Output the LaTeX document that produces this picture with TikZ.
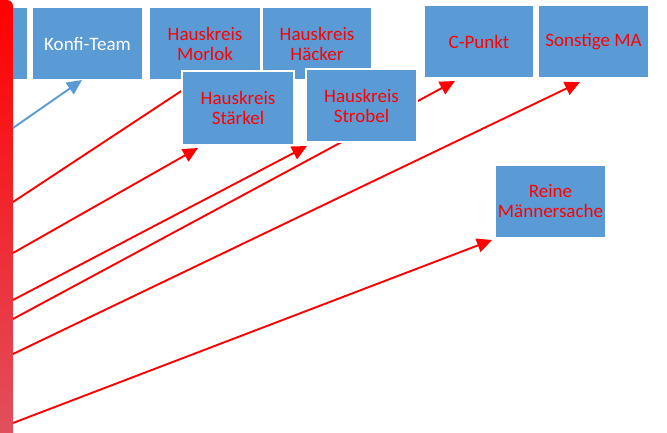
\documentclass[tikz,border=0pt]{standalone}
\usepackage{fontspec}
\setmainfont{Carlito}
\usetikzlibrary{arrows.meta,calc}
\definecolor{boxblue}{RGB}{91,155,213}
\definecolor{barbottom}{RGB}{224,82,96}
\tikzset{
  box/.style={rectangle, fill=boxblue, draw=white, line width=1.3pt, inner sep=0pt, outer sep=0pt,
    align=center, text=red, font=\fontsize{19}{20}\selectfont},
  redarrow/.style={draw=red, line width=1.9pt, -{Triangle[length=15pt,width=14pt]}},
  bluearrow/.style={draw=boxblue, line width=1.9pt, -{Triangle[length=15pt,width=14pt]}}
}
\begin{document}
\begin{tikzpicture}[x=1pt,y=-1pt]
\useasboundingbox (0,0) rectangle (667,432);
\clip (0,0) rectangle (667,432);
\fill[white] (0,0) rectangle (667,432);
% top row boxes
\node[box, minimum width=108pt, minimum height=73pt] (leftbox) at (-26,43.5) {};
\node[box, minimum width=111pt, minimum height=73pt, text=white] (konfi) at (87.5,43.5) {Konfi-Team};
\node[box, minimum width=112pt, minimum height=73pt] (morlok) at (205,43.5) {Hauskreis\\Morlok};
\node[box, minimum width=110pt, minimum height=73pt] (haecker) at (317,43.5) {Hauskreis\\Häcker};
\node[box, minimum width=110pt, minimum height=73pt] (cpunkt) at (479,41.5) {C-Punkt};
\node[box, minimum width=111pt, minimum height=73pt] (sonstige) at (593.5,41.5) {Sonstige MA};
\node[box, minimum width=111pt, minimum height=73pt] (reine) at (550.5,201.5) {Reine\\Männersache};
% bar
\shade[top color=red, bottom color=barbottom, rounded corners=6pt] (-20,0) rectangle (13,445);
\coordinate (sblue) at (13,128);
\coordinate (s1) at (13,202);
\coordinate (s2) at (13,253);
\coordinate (s3) at (13,300);
\coordinate (s4) at (13,319);
\coordinate (s5) at (13,354);
\coordinate (s6) at (13,423);
% connectors
\draw[bluearrow] (sblue) -- ([xshift=-5.5pt]konfi.south);
\draw[redarrow] (s1) -- ([xshift=49pt]morlok.south west);
\draw[redarrow] (s4) -- ([xshift=31pt,yshift=-3pt]cpunkt.south west);
\draw[redarrow] (s5) -- ([xshift=42pt,yshift=-4pt]sonstige.south west);
\draw[redarrow] (s6) -- ([xshift=-3pt,yshift=-2pt]reine.south west);
% overlapping boxes
\node[box, minimum width=112pt, minimum height=74pt] (staerkel) at (238,108) {Hauskreis\\Stärkel};
\node[box, minimum width=111pt, minimum height=73pt] (strobel) at (361.5,105.5) {Hauskreis\\Strobel};
\draw[redarrow] (s2) -- ([xshift=16pt,yshift=-3pt]staerkel.south west);
\draw[redarrow] (s3) -- ([xshift=1pt,yshift=-4pt]strobel.south west);
\end{tikzpicture}
\end{document}
